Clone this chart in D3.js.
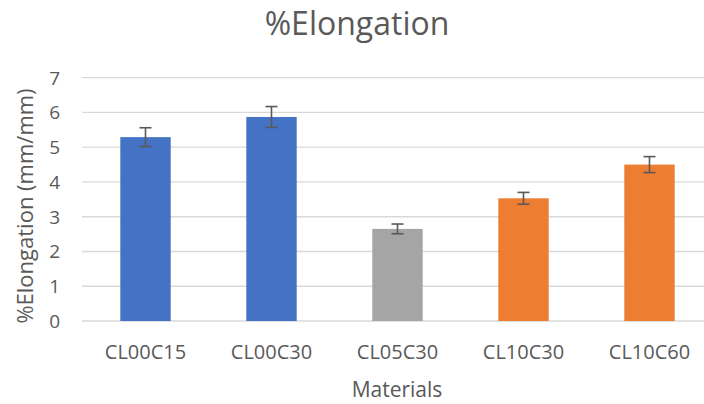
<!DOCTYPE html>
<html><head><meta charset="utf-8">
<script src="https://cdn.jsdelivr.net/npm/d3@7"></script>
<style>body{margin:0;background:#fff}svg{display:block}</style>
</head><body>
<svg id="c" width="704" height="404"></svg>
<script>
const categories = ["CL00C15","CL00C30","CL05C30","CL10C30","CL10C60"];
const values = [5.29, 5.87, 2.65, 3.53, 4.50];
const errors = [0.27, 0.30, 0.14, 0.17, 0.23];
const colors = ["#4472C4","#4472C4","#A5A5A5","#ED7D31","#ED7D31"];
const yTicks = [0,1,2,3,4,5,6,7];

const svg = d3.select("#c");
const font = "'Open Sans', sans-serif";
const txt = "#595959";
svg.append("rect").attr("width",704).attr("height",404).attr("fill","#fff");

const x = d3.scaleBand().domain(categories).range([82.5, 712.5]).paddingInner(0.6).paddingOuter(0.3);
const y = d3.scaleLinear().domain([0,7]).range([321, 77.7]);

// gridlines
svg.append("g").selectAll("line").data(yTicks).join("line")
  .attr("x1",82).attr("x2",704).attr("y1",d=>y(d)).attr("y2",d=>y(d))
  .attr("stroke","#D9D9D9").attr("stroke-width",1.3);

// y tick labels
svg.append("g").selectAll("text").data(yTicks).join("text")
  .attr("x",60).attr("y",d=>y(d)).attr("dy","0.36em").attr("text-anchor","end")
  .attr("font-family",font).attr("font-size",19).attr("fill",txt).text(d=>d);

// bars
svg.append("g").selectAll("rect").data(categories).join("rect")
  .attr("x",d=>x(d)).attr("width",x.bandwidth())
  .attr("y",(d,i)=>y(values[i])).attr("height",(d,i)=>y(0)-y(values[i]))
  .attr("fill",(d,i)=>colors[i]);

// error bars
const eg = svg.append("g").attr("stroke","#595959").attr("stroke-width",1.6);
categories.forEach((c,i)=>{
  const cx = x(c)+x.bandwidth()/2;
  const hi = y(values[i]+errors[i]), lo = y(values[i]-errors[i]);
  eg.append("line").attr("x1",cx).attr("x2",cx).attr("y1",hi).attr("y2",lo);
  eg.append("line").attr("x1",cx-6).attr("x2",cx+6).attr("y1",hi).attr("y2",hi);
  eg.append("line").attr("x1",cx-6).attr("x2",cx+6).attr("y1",lo).attr("y2",lo);
});

// x labels
svg.append("g").selectAll("text").data(categories).join("text")
  .attr("x",d=>x(d)+x.bandwidth()/2).attr("y",359).attr("text-anchor","middle")
  .attr("font-family",font).attr("font-size",20).attr("fill",txt).text(d=>d);

// title
svg.append("text").attr("x",357).attr("y",35).attr("text-anchor","middle")
  .attr("font-family",font).attr("font-size",32).attr("fill",txt).text("%Elongation");

// axis titles
svg.append("text").attr("x",397).attr("y",397).attr("text-anchor","middle")
  .attr("font-family",font).attr("font-size",21).attr("fill",txt).text("Materials");
svg.append("text").attr("transform","translate(33,206) rotate(-90)").attr("text-anchor","middle")
  .attr("font-family",font).attr("font-size",22).attr("fill",txt).text("%Elongation (mm/mm)");
</script>
</body></html>
